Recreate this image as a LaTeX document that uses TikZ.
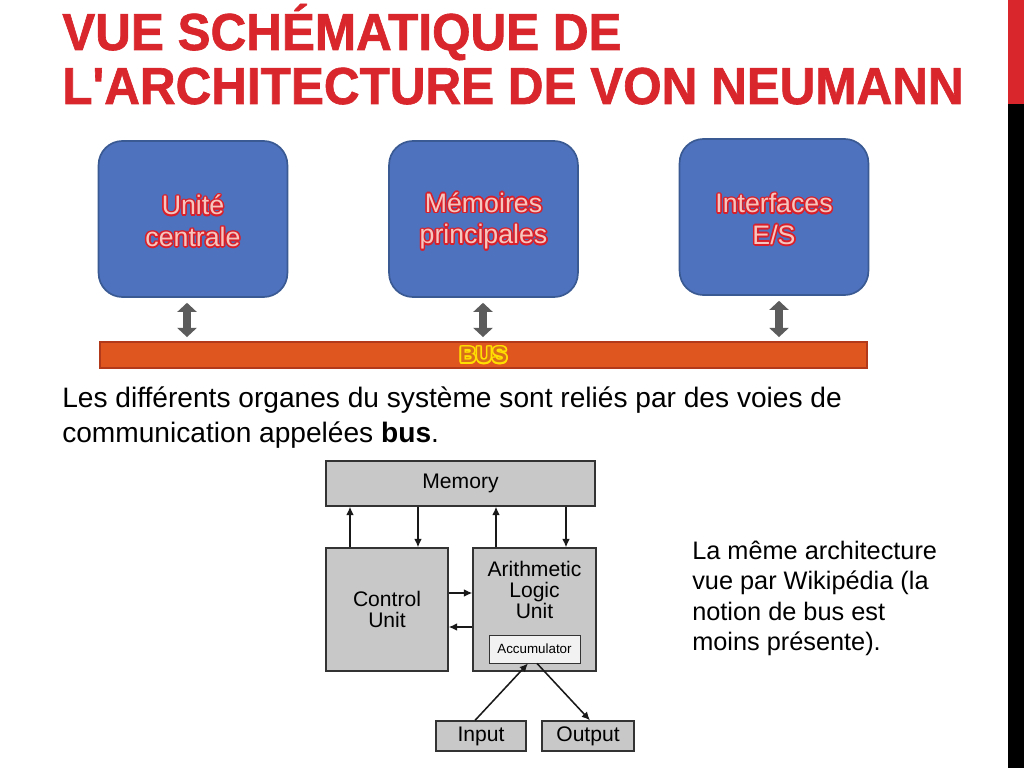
\documentclass[tikz,border=0pt]{standalone}
\usepackage{fontspec}
\setmainfont{Liberation Sans}
\newfontfamily\titlefont[FakeStretch=0.95,FakeBold=1.2]{Liberation Sans}
\usetikzlibrary{arrows.meta,calc}
\definecolor{titlered}{HTML}{D8262C}
\definecolor{boxblue}{HTML}{4F72BE}
\definecolor{boxedge}{HTML}{3A5A94}
\definecolor{txtred}{HTML}{D9202A}
\definecolor{glowpink}{HTML}{F6C6BE}
\definecolor{busorange}{HTML}{E0561F}
\definecolor{busedge}{HTML}{B23A1A}
\definecolor{busyellow}{HTML}{FFE000}
\definecolor{businner}{HTML}{D8701A}
\definecolor{wikigray}{HTML}{C8C8C8}
\definecolor{accwhite}{HTML}{F2F2F2}

\newcommand\halo[4]{%
  \foreach \a in {0,30,...,330}
    \node[#1,text=#2] at ($(#3)+(\a:1.1pt)$) {#4};
  \node[#1] at (#3) {#4};}

\begin{document}
\begin{tikzpicture}[x=0.025cm,y=-0.025cm,
    unit/.style={draw=boxedge,line width=1.2pt,fill=boxblue,rounded corners=17pt,
      minimum width=4.72cm,minimum height=3.9cm,inner sep=0},
    unittxt/.style={text=glowpink,align=center,font=\fontsize{19}{22.5}\selectfont,yshift=-1.5pt},
    bustxt/.style={text=businner,font=\bfseries\fontsize{16}{16}\selectfont},
    dblarrow/.style={draw=black!64,line width=5pt,
      {Triangle[width=13.5pt,length=6.5pt]}-{Triangle[width=13.5pt,length=6.5pt]}},
    wbox/.style={draw=black!80,line width=0.9pt,fill=wikigray,inner sep=0,
      font=\fontsize{15}{15}\selectfont,align=center},
    wire/.style={draw=black!90,line width=1.1pt,-{Latex[length=6pt,width=5.5pt]}},
    para/.style={anchor=base west,inner sep=0,font=\fontsize{20}{24}\selectfont},
    note/.style={anchor=base west,inner sep=0,font=\fontsize{18}{21}\selectfont}]
\useasboundingbox (0,0) rectangle (1024,768);
\fill[white] (0,0) rectangle (1024,768);
\fill[titlered] (1008,0) rectangle (1024,104);
\fill[black] (1008,104) rectangle (1024,768);

\node[anchor=base west,inner sep=0,text=titlered,font=\titlefont\bfseries\fontsize{37}{38}\selectfont]
  (title1) at (62,50) {VUE SCHÉMATIQUE DE};
\node[anchor=base west,inner sep=0,text=titlered,font=\titlefont\bfseries\fontsize{37}{38}\selectfont]
  (title2) at (62,104) {L'ARCHITECTURE DE VON NEUMANN};

\node[unit] (uc) at (193,219) {};
\node[unit] (mp) at (483.5,219) {};
\node[unit] (ies) at (774,217) {};
\halo{unittxt}{txtred}{uc}{Unité\\centrale}
\halo{unittxt}{txtred}{mp}{Mémoires\\principales}
\halo{unittxt}{txtred}{ies}{Interfaces\\E/S}

\node[draw=busedge,line width=1pt,fill=busorange,minimum width=19.175cm,minimum height=0.65cm,inner sep=0]
  (bus) at (483.5,355) {};
\halo{bustxt}{busyellow}{bus}{BUS}

\coordinate (a1) at (187,0);
\coordinate (a2) at (483,0);
\coordinate (a3) at (779,0);
\draw[dblarrow,shorten <=3.5pt,shorten >=3pt] (uc.south -| a1) -- (bus.north -| a1);
\draw[dblarrow,shorten <=3.5pt,shorten >=3pt] (mp.south -| a2) -- (bus.north -| a2);
\draw[dblarrow,shorten <=3.5pt,shorten >=3pt] (ies.south -| a3) -- (bus.north -| a3);

\node[para] (p1) at (62,407) {Les différents organes du système sont reliés par des voies de};
\node[para] (p2) at (62,442) {communication appelées \textbf{bus}.};

\node[wbox,minimum width=6.725cm,minimum height=1.125cm] (mem) at (460.5,483.5) {Memory};
\node[wbox,minimum width=3.05cm,minimum height=3.075cm] (cu) at (387,609.5) {Control\\Unit};
\node[wbox,minimum width=3.075cm,minimum height=3.075cm] (alu) at (534.5,609.5) {};
\node[font=\fontsize{15}{15}\selectfont,align=center,inner sep=0] (alutxt) at (534.5,590) {Arithmetic\\Logic\\Unit};
\node[wbox,fill=accwhite,line width=0.6pt,minimum width=2.275cm,minimum height=0.7cm,
  font=\fontsize{9.5}{10}\selectfont] (acc) at (534.5,649) {Accumulator};
\node[wbox,minimum width=2.25cm,minimum height=0.75cm] (inp) at (481,736) {Input};
\node[wbox,minimum width=2.3cm,minimum height=0.75cm] (outp) at (588,736) {Output};

\coordinate (m1) at (350,0);
\coordinate (m2) at (418,0);
\coordinate (m3) at (496,0);
\coordinate (m4) at (566,0);
\coordinate (h1) at (0,593);
\coordinate (h2) at (0,627);
\coordinate (k1) at (475,0);
\coordinate (k2) at (528,0);
\coordinate (k3) at (537,0);
\coordinate (k4) at (590,0);
\draw[wire] (cu.north -| m1) -- (mem.south -| m1);
\draw[wire] (mem.south -| m2) -- (cu.north -| m2);
\draw[wire] (alu.north -| m3) -- (mem.south -| m3);
\draw[wire] (mem.south -| m4) -- (alu.north -| m4);
\draw[wire] (cu.east |- h1) -- (alu.west |- h1);
\draw[wire] (alu.west |- h2) -- (cu.east |- h2);
\draw[wire] (inp.north -| k1) -- (acc.south -| k2);
\draw[wire] (acc.south -| k3) -- (outp.north -| k4);

\node[note] (n1) at (692,559) {La même architecture};
\node[note] (n2) at (692,589.5) {vue par Wikipédia (la};
\node[note] (n3) at (692,620) {notion de bus est};
\node[note] (n4) at (692,650.5) {moins présente).};
\end{tikzpicture}
\end{document}
